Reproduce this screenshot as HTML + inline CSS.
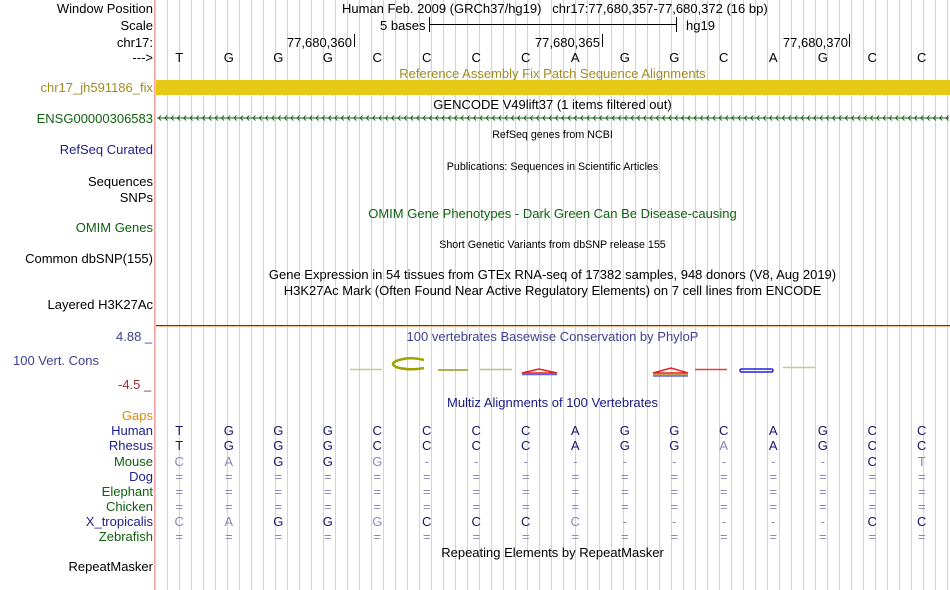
<!DOCTYPE html>
<html><head><meta charset="utf-8"><style>
body{margin:0;width:950px;height:590px;background:#fff;position:relative;overflow:hidden;font-family:"Liberation Sans",sans-serif;font-size:13px;color:#000}
.t,.l,.c,.row{margin-top:1px}
.t{position:absolute;white-space:nowrap;line-height:14px}
.l{position:absolute;right:797px;text-align:right;white-space:nowrap;line-height:14px}
.c{position:absolute;left:155px;width:795px;text-align:center;white-space:nowrap;line-height:14px}
.s{font-size:10.7px}
.row{position:absolute;left:154.5px;display:flex;line-height:14px}
.row span{width:49.5px;text-align:center}
.lt{color:#8888b4}
</style></head><body>
<div style="position:absolute;left:155px;top:0;width:795px;height:590px;background-image:linear-gradient(to right,#cfcff6 1px,transparent 1px);background-size:12px 100%;background-position:12px 0"></div>
<div style="position:absolute;left:154px;top:0;width:1px;height:590px;background:#f4a4a4"></div>

<div class="l" style="top:1px">Window Position</div>
<div class="l" style="top:18px">Scale</div>
<div class="l" style="top:35px">chr17:</div>
<div class="l" style="top:50px">---&gt;</div>
<div class="l" style="top:80px;color:#a08c20">chr17_jh591186_fix</div>
<div class="l" style="top:111px;color:#106010">ENSG00000306583</div>
<div class="l" style="top:142px;color:#20208c">RefSeq Curated</div>
<div class="l" style="top:174px">Sequences</div>
<div class="l" style="top:190px">SNPs</div>
<div class="l" style="top:220px;color:#106010">OMIM Genes</div>
<div class="l" style="top:251px">Common dbSNP(155)</div>
<div class="l" style="top:297px">Layered H3K27Ac</div>
<div class="t" style="left:116px;top:329px;color:#404090">4.88 _</div>
<div class="t" style="left:13px;top:353px;color:#404090">100 Vert. Cons</div>
<div class="t" style="left:118px;top:377px;color:#903030">-4.5 _</div>
<div class="l" style="top:408px;color:#e08a00">Gaps</div>
<div class="l" style="top:423px;color:#20208c">Human</div>
<div class="l" style="top:438px;color:#20208c">Rhesus</div>
<div class="l" style="top:454px;color:#106010">Mouse</div>
<div class="l" style="top:469px;color:#20208c">Dog</div>
<div class="l" style="top:484px;color:#106010">Elephant</div>
<div class="l" style="top:499px;color:#106010">Chicken</div>
<div class="l" style="top:514px;color:#20208c">X_tropicalis</div>
<div class="l" style="top:529px;color:#106010">Zebrafish</div>
<div class="l" style="top:559px">RepeatMasker</div>

<div class="t" style="left:342px;top:1px">Human Feb. 2009 (GRCh37/hg19)&nbsp;&nbsp;&nbsp;chr17:77,680,357-77,680,372 (16 bp)</div>
<div class="t" style="left:380px;top:18px">5 bases</div>
<div style="position:absolute;left:429px;top:17px;width:1px;height:15px;background:#000"></div>
<div style="position:absolute;left:429px;top:24px;width:247px;height:1px;background:#000"></div>
<div style="position:absolute;left:676px;top:17px;width:1px;height:15px;background:#000"></div>
<div class="t" style="left:686px;top:18px">hg19</div>
<div class="t" style="right:598px;top:35px">77,680,360</div><div style="position:absolute;left:354px;top:34px;width:1px;height:13px;background:#000"></div>
<div class="t" style="right:350px;top:35px">77,680,365</div><div style="position:absolute;left:602px;top:34px;width:1px;height:13px;background:#000"></div>
<div class="t" style="right:102px;top:35px">77,680,370</div><div style="position:absolute;left:849px;top:34px;width:1px;height:13px;background:#000"></div>
<div class="row" style="top:50px"><span>T</span><span>G</span><span>G</span><span>G</span><span>C</span><span>C</span><span>C</span><span>C</span><span>A</span><span>G</span><span>G</span><span>C</span><span>A</span><span>G</span><span>C</span><span>C</span></div>

<div class="c" style="top:66px;color:#a08c20">Reference Assembly Fix Patch Sequence Alignments</div>
<div style="position:absolute;left:156px;top:80px;width:794px;height:15px;background:#e6c917"></div>
<div class="c" style="top:97px">GENCODE V49lift37 (1 items filtered out)</div>
<svg style="position:absolute;left:0;top:0" width="950" height="590">
<defs><pattern id="ar" x="157" y="0" width="6.3" height="590" patternUnits="userSpaceOnUse"><path d="M4 115.5 L1.5 118 L4 120.5" fill="none" stroke="#106010" stroke-width="0.9"/></pattern></defs>
<rect x="157" y="114" width="792" height="8" fill="url(#ar)"/>
<line x1="157" y1="118" x2="949" y2="118" stroke="#106010" stroke-width="1"/>
<g fill="none" stroke-width="1.5">
<line x1="350" y1="369.5" x2="382" y2="369.5" stroke="#c8c890"/>
<path d="M424 360 Q409 356 396 361 Q390 364 396 367 Q409 371 424 368" stroke="#a0a000" stroke-width="2.5"/>
<line x1="438" y1="370" x2="468" y2="370" stroke="#b0b050" stroke-width="2"/>
<line x1="480" y1="369.5" x2="512" y2="369.5" stroke="#c0c080"/>
<path d="M522 373 L539 369 L557 373 Z" stroke="#e02020"/>
<line x1="522" y1="374.5" x2="557" y2="374.5" stroke="#6060e0"/>
<path d="M653 373 L671 368 L688 373 Z" stroke="#e02020"/>
<line x1="653" y1="374.5" x2="688" y2="374.5" stroke="#c0a040"/>
<line x1="653" y1="376" x2="688" y2="376" stroke="#6060e0"/>
<line x1="695" y1="369.5" x2="727" y2="369.5" stroke="#e04040"/>
<rect x="740" y="369" width="33" height="3" rx="1.5" stroke="#2020e0"/>
<line x1="783" y1="367.5" x2="815" y2="367.5" stroke="#c8c890"/>
</g></svg>
<div class="c s" style="top:127px">RefSeq genes from NCBI</div>
<div class="c s" style="top:159px">Publications: Sequences in Scientific Articles</div>
<div class="c" style="top:206px;color:#106010">OMIM Gene Phenotypes - Dark Green Can Be Disease-causing</div>
<div class="c s" style="top:237px">Short Genetic Variants from dbSNP release 155</div>
<div class="c" style="top:267px">Gene Expression in 54 tissues from GTEx RNA-seq of 17382 samples, 948 donors (V8, Aug 2019)</div>
<div class="c" style="top:283px">H3K27Ac Mark (Often Found Near Active Regulatory Elements) on 7 cell lines from ENCODE</div>
<div style="position:absolute;left:156px;top:325px;width:794px;height:1px;background:#6a2a50"></div>
<div style="position:absolute;left:156px;top:326px;width:794px;height:1px;background:#f0c090"></div>
<div class="c" style="top:329px;color:#404090">100 vertebrates Basewise Conservation by PhyloP</div>
<div class="c" style="top:395px;color:#1a1a80">Multiz Alignments of 100 Vertebrates</div>

<div class="row" style="top:423px;color:#15156a"><span>T</span><span>G</span><span>G</span><span>G</span><span>C</span><span>C</span><span>C</span><span>C</span><span>A</span><span>G</span><span>G</span><span>C</span><span>A</span><span>G</span><span>C</span><span>C</span></div>
<div class="row" style="top:438px;color:#15156a"><span>T</span><span>G</span><span>G</span><span>G</span><span>C</span><span>C</span><span>C</span><span>C</span><span>A</span><span>G</span><span>G</span><span class="lt">A</span><span>A</span><span>G</span><span>C</span><span>C</span></div>
<div class="row" style="top:454px;color:#15156a"><span class="lt">C</span><span class="lt">A</span><span>G</span><span>G</span><span class="lt">G</span><span class="lt">-</span><span class="lt">-</span><span class="lt">-</span><span class="lt">-</span><span class="lt">-</span><span class="lt">-</span><span class="lt">-</span><span class="lt">-</span><span class="lt">-</span><span>C</span><span class="lt">T</span></div>
<div class="row lt" style="top:469px"><span>=</span><span>=</span><span>=</span><span>=</span><span>=</span><span>=</span><span>=</span><span>=</span><span>=</span><span>=</span><span>=</span><span>=</span><span>=</span><span>=</span><span>=</span><span>=</span></div>
<div class="row lt" style="top:484px"><span>=</span><span>=</span><span>=</span><span>=</span><span>=</span><span>=</span><span>=</span><span>=</span><span>=</span><span>=</span><span>=</span><span>=</span><span>=</span><span>=</span><span>=</span><span>=</span></div>
<div class="row lt" style="top:499px"><span>=</span><span>=</span><span>=</span><span>=</span><span>=</span><span>=</span><span>=</span><span>=</span><span>=</span><span>=</span><span>=</span><span>=</span><span>=</span><span>=</span><span>=</span><span>=</span></div>
<div class="row" style="top:514px;color:#15156a"><span class="lt">C</span><span class="lt">A</span><span>G</span><span>G</span><span class="lt">G</span><span>C</span><span>C</span><span>C</span><span class="lt">C</span><span class="lt">-</span><span class="lt">-</span><span class="lt">-</span><span class="lt">-</span><span class="lt">-</span><span>C</span><span>C</span></div>
<div class="row lt" style="top:529px"><span>=</span><span>=</span><span>=</span><span>=</span><span>=</span><span>=</span><span>=</span><span>=</span><span>=</span><span>=</span><span>=</span><span>=</span><span>=</span><span>=</span><span>=</span><span>=</span></div>
<div class="c" style="top:545px">Repeating Elements by RepeatMasker</div>
</body></html>
